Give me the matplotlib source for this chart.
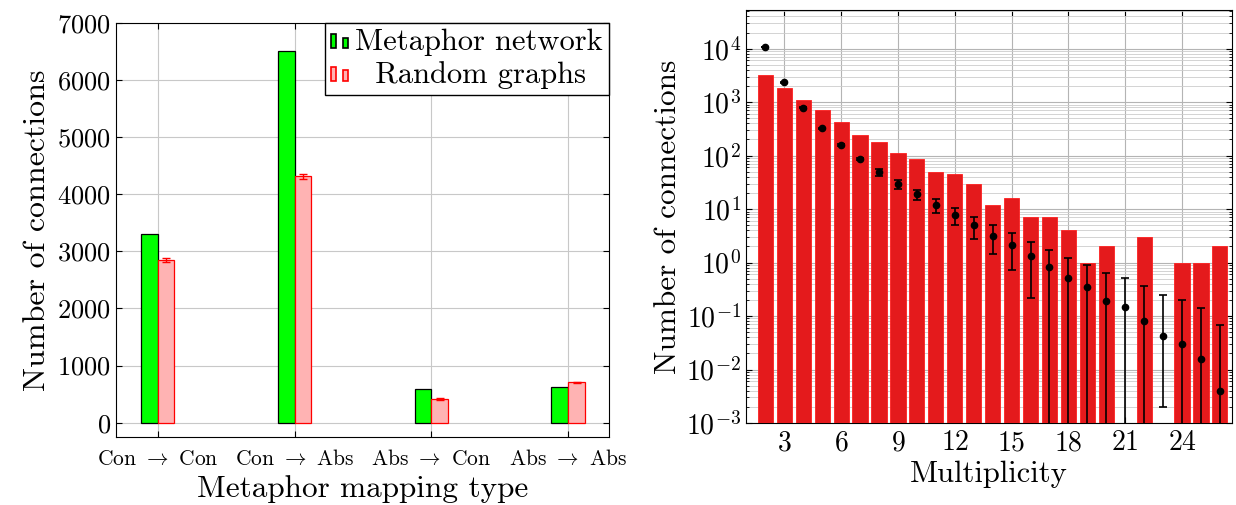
import matplotlib
matplotlib.use('Agg')
import matplotlib.pyplot as plt
import numpy as np
from matplotlib.patches import Rectangle
from matplotlib.legend_handler import HandlerBase
from matplotlib.ticker import LogLocator, NullFormatter

# left panel: connections per mapping type
mapping_types = ['Con $\\rightarrow$ Con', 'Con $\\rightarrow$ Abs',
                 'Abs $\\rightarrow$ Con', 'Abs $\\rightarrow$ Abs']
metaphor_counts = [3305, 6505, 595, 630]
random_counts = [2845, 4315, 415, 705]
random_err = [30, 40, 15, 15]

# right panel: multiplicity distribution
multiplicity = list(range(2, 27))
observed = [3200, 1800, 1100, 700, 420, 240, 176, 111, 85, 50, 46, 29, 12,
            16, 7, 7, 4, 1, 2, 0, 3, 0, 1, 1, 2]
random_mean = [10700, 2340, 785, 327, 157, 85, 48.4, 29.7, 18.8, 12.0, 7.8, 4.93,
               3.2, 2.14, 1.30, 0.83, 0.52, 0.346, 0.195, 0.15, 0.082, 0.043,
               0.0305, 0.0158, 0.0039]
random_std = [60, 30, 12, 8, 6, 4, 6.8, 5.5, 4.1, 3.4, 2.8, 2.2,
              1.74, 1.4, 1.08, 0.9, 0.7, 0.56, 0.446, 0.375, 0.284, 0.206,
              0.173, 0.126, 0.063]

plt.rcParams['font.family'] = ['cmr10', 'DejaVu Serif']
plt.rcParams['mathtext.fontset'] = 'cm'
plt.rcParams['axes.formatter.use_mathtext'] = True
plt.rcParams['axes.unicode_minus'] = False


class TwoBars(HandlerBase):
    """pgfplots-style legend image: two little bars"""
    def create_artists(self, legend, orig_handle, xdescent, ydescent,
                       width, height, fontsize, trans):
        fc = orig_handle.get_facecolor()
        ec = orig_handle.get_edgecolor()
        w = width * 0.3
        y0 = -ydescent + 0.1 * height
        r1 = Rectangle((-xdescent, y0), w, height * 0.65,
                       facecolor=fc, edgecolor=ec, lw=1.2, transform=trans)
        r2 = Rectangle((-xdescent + width * 0.65, y0), w, height * 0.5,
                       facecolor=fc, edgecolor=ec, lw=1.2, transform=trans)
        return [r1, r2]


fig = plt.figure(figsize=(12.36, 5.05), dpi=100)

# 左图
ax1 = fig.add_axes([0.0939, 0.1347, 0.399, 0.82])
x = np.arange(len(mapping_types))
bw = 0.122
b1 = ax1.bar(x - bw / 2, metaphor_counts, bw, color='#00ff00', edgecolor='black',
             linewidth=0.9, zorder=3)
b2 = ax1.bar(x + bw / 2, random_counts, bw, color='#ffb3b3', edgecolor='red',
             linewidth=0.9, zorder=3)
ax1.errorbar(x + bw / 2, random_counts, yerr=random_err, fmt='none', ecolor='red',
             elinewidth=1, capsize=3, zorder=4)
ax1.set_xlim(-0.305, 3.30)
ax1.set_ylim(-250, 7000)
ax1.set_xticks(x)
ax1.set_xticklabels(mapping_types, fontsize=15.5)
ax1.set_yticks(range(0, 7001, 1000))
ax1.tick_params(axis='y', labelsize=19)
ax1.tick_params(axis='x', pad=9)
ax1.tick_params(direction='in', top=True, right=True, length=4)
ax1.grid(True, color='#c8c8c8', linewidth=0.8, zorder=0)
ax1.set_xlabel('Metaphor mapping type', fontsize=22.5, labelpad=4)
ax1.set_ylabel('Number of connections', fontsize=23, labelpad=5)
leg = ax1.legend([b1[0], b2[0]], ['Metaphor network', '  Random graphs'],
                 loc='upper right', fontsize=22,
                 handler_map={Rectangle: TwoBars()}, handlelength=0.6,
                 handletextpad=0.2, borderpad=0.2, labelspacing=0.15,
                 borderaxespad=0, fancybox=False, framealpha=1)
leg.get_frame().set_edgecolor('black')
leg.get_frame().set_linewidth(1)

# 右图
ax2 = fig.add_axes([0.6036, 0.1624, 0.3932, 0.818])
ax2.bar(multiplicity, observed, 0.8, color='#e41a1c', edgecolor='#ff2020',
        linewidth=0.6, zorder=3)
m = np.array(random_mean)
s = np.array(random_std)
lo = np.minimum(s, m)
# x=23 shows a lower cap near 0.002
lo[multiplicity.index(23)] = m[multiplicity.index(23)] - 0.002
ax2.errorbar(multiplicity, random_mean, yerr=[lo, s], fmt='o', color='black',
             markersize=4.5, elinewidth=1.2, capsize=3, capthick=1.2, zorder=4)
ax2.set_yscale('log')
ax2.set_ylim(1e-3, 5.3e4)
ax2.set_xlim(0.98, 26.64)
ax2.set_xticks(range(3, 25, 3))
ax2.yaxis.set_major_locator(LogLocator(base=10, numticks=20))
ax2.yaxis.set_minor_locator(LogLocator(base=10, subs=np.arange(2, 10), numticks=20))
ax2.yaxis.set_minor_formatter(NullFormatter())
ax2.tick_params(labelsize=20)
ax2.tick_params(axis='x', pad=5)
ax2.tick_params(which='both', direction='in', top=True, right=True)
ax2.tick_params(which='major', length=4)
ax2.tick_params(which='minor', length=2)
ax2.grid(True, which='major', color='#b4b4b4', linewidth=0.8, zorder=0)
ax2.grid(True, which='minor', axis='y', color='#cccccc', linewidth=0.6, zorder=0)
ax2.set_xlabel('Multiplicity', fontsize=22, labelpad=3)
ax2.set_ylabel('Number of connections', fontsize=22.5, labelpad=3)

plt.savefig('out.png', dpi=100)
plt.close()
